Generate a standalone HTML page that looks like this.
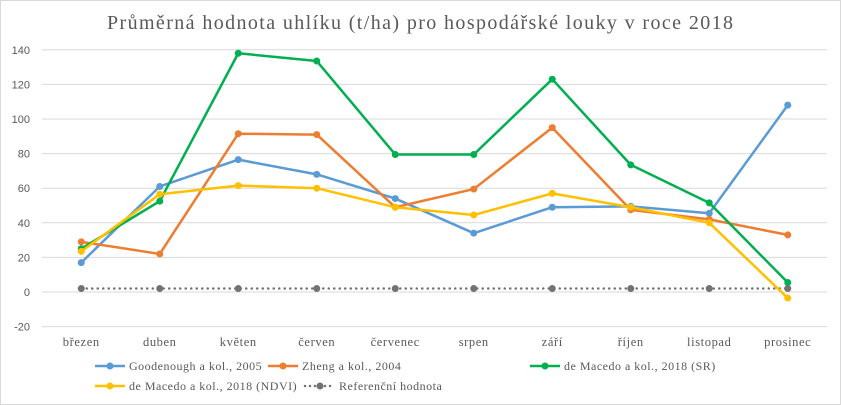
<!DOCTYPE html>
<html><head><meta charset="utf-8"><style>
body{margin:0;background:#fff}
svg{display:block}
.t{font-family:"Liberation Serif",serif;fill:#595959}
.s{font-family:"Liberation Sans",sans-serif;fill:#595959}
</style></head><body>
<svg id="c" width="841" height="405">
<rect x="0.5" y="0.5" width="840" height="404" fill="#fff" stroke="#d9d9d9"/>
<text x="107" y="29" textLength="626" lengthAdjust="spacing" class="t" font-size="20">Průměrná hodnota uhlíku (t/ha) pro hospodářské louky v roce 2018</text>
<g id="grid"></g><g id="series"></g><g id="legend"></g>
</svg>
<script>
const categories=["březen","duben","květen","červen","červenec","srpen","září","říjen","listopad","prosinec"];
const yTicks=[-20,0,20,40,60,80,100,120,140];
const goodenough=[17,61,76.5,68,54,34,49,49.5,45.5,108];
const zheng=[29,22,91.5,91,49,59.5,95,47.5,42,33];
const macedoSR=[25,52.5,138,133.5,79.5,79.5,123,73.5,51.5,5.5];
const macedoNDVI=[23.5,56.5,61.5,60,49,44.5,57,49,40,-3.5];
const reference=[2,2,2,2,2,2,2,2,2,2];
const NS="http://www.w3.org/2000/svg";
const L=42,R=827,Y0=292,PX=34.6/20;
const x=i=>L+(R-L)/categories.length*(i+0.5);
const y=v=>Y0-v*PX;
function mk(t,a,p){const e=document.createElementNS(NS,t);for(const k in a)e.setAttribute(k,a[k]);p.appendChild(e);return e;}
const g=document.getElementById('grid');
yTicks.forEach(v=>{
const l=mk('line',{x1:L,x2:R,y1:y(v),y2:y(v),stroke:'#d9d9d9','stroke-width':1},g);


const t=mk('text',{x:30,y:y(v)+4,'text-anchor':'end','font-size':11,class:'s'},g);t.textContent=v;


});
categories.forEach((c,i)=>{
const t=mk('text',{x:x(i),y:346,'text-anchor':'middle','font-size':12.5,'letter-spacing':0.6,class:'t'},g);t.textContent=c;


});
const series=[
{n:'Goodenough a kol., 2005',d:goodenough,c:'#5b9bd5',id:'goodenough'},
{n:'Zheng a kol., 2004',d:zheng,c:'#ed7d31',id:'zheng'},
{n:'de Macedo a kol., 2018 (SR)',d:macedoSR,c:'#00b050',id:'macedo-sr'},
{n:'de Macedo a kol., 2018 (NDVI)',d:macedoNDVI,c:'#ffc000',id:'macedo-ndvi'},
{n:'Referenční hodnota',d:reference,c:'#767171',id:'reference',dot:true}];
const sg=document.getElementById('series');
[4,0,1,2,3].forEach(k=>{const s=series[k];
const grp=mk('g',{},sg);


const pl=mk('polyline',{points:s.d.map((v,i)=>x(i)+','+y(v)).join(' '),fill:'none',stroke:s.c,'stroke-width':2.5,'stroke-linejoin':'round'},grp);
if(s.dot){pl.setAttribute('stroke-dasharray','0 5.5');pl.setAttribute('stroke-linecap','round');}


s.d.forEach((v,i)=>{const m=mk('circle',{cx:x(i),cy:y(v),r:3.5,fill:s.c},grp);

});
});
const lg=document.getElementById('legend');
const pos=[[95,366],[268,366],[530,366],[95,386],[305,386]];
series.forEach((s,k)=>{const [lx,ly]=pos[k];
const e=mk('g',{},lg);


const ln=mk('line',{x1:lx,x2:lx+30,y1:ly,y2:ly,stroke:s.c,'stroke-width':2.5},e);
if(s.dot){ln.setAttribute('stroke-dasharray','0 5');ln.setAttribute('stroke-linecap','round');}
mk('circle',{cx:lx+15,cy:ly,r:3.5,fill:s.c},e);
const t=mk('text',{x:lx+34,y:ly+4,'font-size':12,'letter-spacing':0.5,class:'t'},e);t.textContent=s.n;
});
</script>
</body></html>
